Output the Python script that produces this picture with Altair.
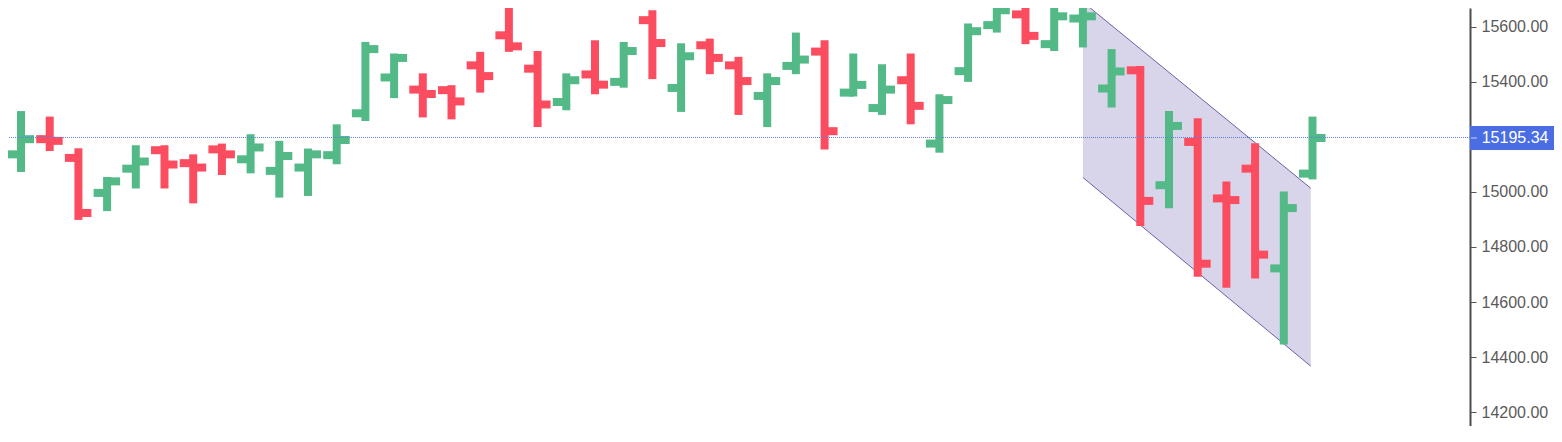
import pandas as pd
import altair as alt

# OHLC bars (index 0 is the half-hidden bar at the left edge)
opens = [15110, 15136, 15191, 15123, 14996, 15084, 15151, 15104, 15154, 15118,
         15076, 15088, 15133, 15285, 15415, 15371, 15369, 15459, 15568, 15447,
         15326, 15426, 15399, 15623, 15377, 15532, 15459, 15348, 15457, 15509,
         15360, 15304, 15405, 15175, 15438, 15605, 15644, 15536, 15629, 15375,
         15441, 15024, 15181, 14976, 15084, 14722, 15066]
highs = [15170, 15293, 15273, 15158, 15054, 15169, 15169, 15136, 15175, 15209,
         15185, 15157, 15245, 15544, 15502, 15430, 15387, 15508, 15681, 15511,
         15430, 15550, 15544, 15659, 15539, 15556, 15490, 15430, 15578, 15550,
         15502, 15463, 15502, 15354, 15611, 15695, 15700, 15693, 15693, 15518,
         15457, 15293, 15267, 15037, 15176, 15001, 15273]
lows = [15090, 15072, 15148, 14898, 14930, 15012, 15012, 14958, 15061, 15067,
        14979, 14985, 15100, 15257, 15340, 15270, 15263, 15360, 15508, 15235,
        15296, 15354, 15378, 15409, 15290, 15427, 15279, 15235, 15427, 15154,
        15346, 15279, 15245, 15142, 15399, 15578, 15536, 15511, 15524, 15306,
        14876, 14940, 14692, 14652, 14685, 14446, 15045]
closes = [15142, 15191, 15185, 14923, 15038, 15110, 15099, 15088, 15136, 15161,
          15130, 15136, 15188, 15518, 15486, 15355, 15328, 15420, 15528, 15317,
          15405, 15389, 15511, 15540, 15492, 15486, 15402, 15402, 15480, 15220,
          15388, 15371, 15312, 15333, 15583, 15659, 15566, 15637, 15637, 15437,
          14967, 15239, 14739, 14970, 14772, 14941, 15195.34]

# falling channel drawn on the chart (bar index, upper edge, lower edge)
channel_idx = [38, 45.94]
channel_top = [15689, 15013]
channel_bottom = [15052, 14367]

last_price = 15195.34
tick_values = [14200, 14400, 14600, 14800, 15000, 15400, 15600]

GREEN = "#53b987"
RED = "#fb4d5f"

bars = pd.DataFrame({"i": range(len(opens)), "o": opens, "h": highs,
                     "l": lows, "c": closes})
bars["dir"] = ["up" if c >= o else "down" for o, c in zip(opens, closes)]

channel = pd.DataFrame({"i": channel_idx, "top": channel_top,
                        "bottom": channel_bottom})
price = pd.DataFrame({"price": [last_price]})

W, H = 1462, 418
xscale = alt.Scale(domain=[0.547, 51.488], nice=False, zero=False)
yscale = alt.Scale(domain=[14149.9, 15667.2], nice=False, zero=False)
yaxis = alt.Axis(
    orient="right", values=tick_values, format=".2f", title=None,
    grid=False, labelFontSize=16, labelColor="#5a5a5a",
    labelFont="Liberation Sans", labelPadding=5, tickSize=6,
    tickColor="#555555", domainColor="#4d4d4d", domainWidth=2)
color = alt.Color("dir:N", scale=alt.Scale(domain=["up", "down"],
                                           range=[GREEN, RED]), legend=None)

x = alt.X("i:Q", scale=xscale, axis=None)

fill = alt.Chart(channel).mark_area(color="#d8d4ea", opacity=1,
                                    clip=True).encode(
    x=x,
    y=alt.Y("top:Q", scale=yscale, axis=yaxis),
    y2="bottom:Q"
)
top_line = alt.Chart(channel).mark_line(color="#6b5fa8", strokeWidth=1,
                                        clip=True).encode(
    x=x, y=alt.Y("top:Q", scale=yscale, axis=yaxis)
)
bottom_line = alt.Chart(channel).mark_line(color="#6b5fa8", strokeWidth=1,
                                           clip=True).encode(
    x=x, y=alt.Y("bottom:Q", scale=yscale, axis=yaxis)
)

base = alt.Chart(bars)
stems = base.mark_rule(strokeWidth=8, clip=True).encode(
    x=x,
    y=alt.Y("l:Q", scale=yscale, axis=yaxis),
    y2="h:Q",
    color=color
)
open_ticks = base.mark_rule(strokeWidth=8, xOffset=-13.5, x2Offset=0,
                            clip=True).encode(
    x=x, x2="i:Q", y=alt.Y("o:Q", scale=yscale, axis=yaxis), color=color
)
close_ticks = base.mark_rule(strokeWidth=8, xOffset=0, x2Offset=13,
                             clip=True).encode(
    x=x, x2="i:Q", y=alt.Y("c:Q", scale=yscale, axis=yaxis), color=color
)

# last-price line with its label on the axis
price_line = alt.Chart(price).mark_rule(
    color="#5f7fe6", strokeWidth=1, strokeDash=[1, 1], yOffset=-0.5,
    clip=True
).encode(y=alt.Y("price:Q", scale=yscale, axis=yaxis))

price_box = alt.Chart(price).mark_rect(
    color="#4a6de3", yOffset=-12, y2Offset=12, clip=False
).encode(
    y=alt.Y("price:Q", scale=yscale, axis=yaxis),
    y2="price:Q",
    x=alt.value(W), x2=alt.value(W + 84)
)
price_tick = alt.Chart(price).mark_rule(
    color="#c9d4f7", strokeWidth=1, clip=False
).encode(
    y=alt.Y("price:Q", scale=yscale, axis=yaxis),
    x=alt.value(W + 1), x2=alt.value(W + 7)
)
price_text = alt.Chart(price).mark_text(
    color="white", fontSize=16, font="Liberation Sans", align="left",
    baseline="middle", clip=False
).encode(
    y=alt.Y("price:Q", scale=yscale, axis=yaxis),
    x=alt.value(W + 11.7),
    text=alt.Text("price:Q", format=".2f")
)

chart = alt.layer(
    fill, top_line, bottom_line, stems, open_ticks, close_ticks,
    price_line, price_box, price_tick, price_text
).properties(
    width=W, height=H, padding=0, background="white"
).configure_view(stroke=None)

chart.save("out.html", embed_options={"renderer": "svg", "actions": False})
